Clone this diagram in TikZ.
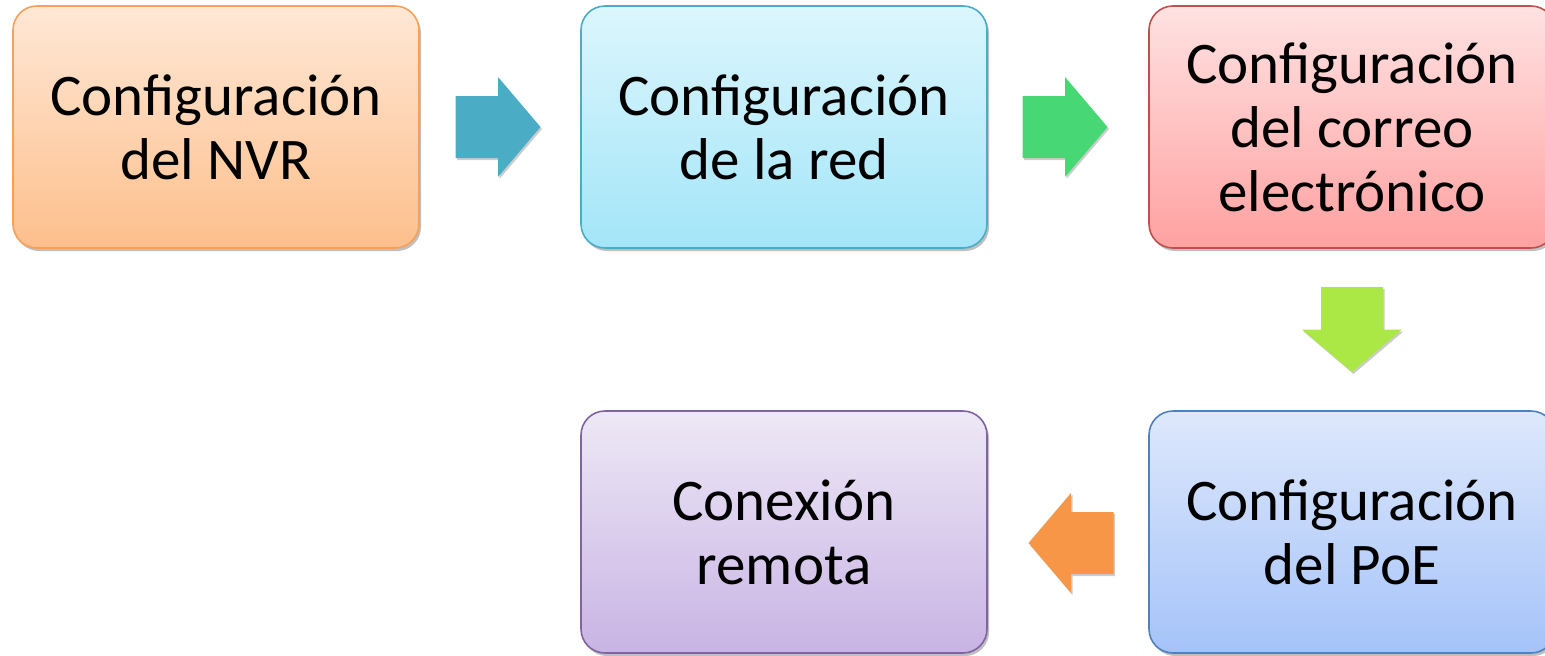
\documentclass[tikz,border=0pt]{standalone}
\usepackage{fontspec}
\setmainfont{Carlito}
\usetikzlibrary{shadows,calc}
\definecolor{oTop}{HTML}{FFE8D6}\definecolor{oBot}{HTML}{FDBF8C}\definecolor{oLine}{HTML}{F6A05A}
\definecolor{cTop}{HTML}{DCF6FD}\definecolor{cBot}{HTML}{A3E5F8}\definecolor{cLine}{HTML}{4BACC6}
\definecolor{rTop}{HTML}{FFE2E2}\definecolor{rBot}{HTML}{FFA1A1}\definecolor{rLine}{HTML}{C0504D}
\definecolor{bTop}{HTML}{DEE8FC}\definecolor{bBot}{HTML}{A5C3F9}\definecolor{bLine}{HTML}{4F81BD}
\definecolor{pTop}{HTML}{EEE8F6}\definecolor{pBot}{HTML}{C8B4E4}\definecolor{pLine}{HTML}{8064A2}
\definecolor{aTeal}{HTML}{4BACC6}\definecolor{aGreen}{HTML}{47D774}
\definecolor{aLime}{HTML}{ABE845}\definecolor{aOrange}{HTML}{F79646}
\tikzset{
  stepbox/.style={rounded corners=24pt, minimum width=406pt, minimum height=242pt,
    line width=1.6pt, align=center, inner sep=0pt,
    font=\fontsize{59}{64}\selectfont,
    drop shadow={shadow xshift=2pt, shadow yshift=-3pt, opacity=0.25, fill=black}},
  blockarrow/.pic={
    \fill[pic actions, drop shadow={shadow xshift=1.5pt, shadow yshift=-2pt, opacity=0.2, fill=black}]
      (-42.5,-31) -- (0,-31) -- (0,-50) -- (42.5,0) -- (0,50) -- (0,31) -- (-42.5,31) -- cycle;
  }
}
\begin{document}
\begin{tikzpicture}[x=1pt,y=-1pt]
\useasboundingbox (0,0) rectangle (1545,656);
\node[stepbox, top color=oTop, bottom color=oBot, draw=oLine] (b1) at (216,127) {Configuración\\del NVR};
\node[stepbox, top color=cTop, bottom color=cBot, draw=cLine] (b2) at (784,127) {Configuración\\de la red};
\node[stepbox, top color=rTop, bottom color=rBot, draw=rLine] (b3) at (1352,127) {Configuración\\del correo\\electrónico};
\node[stepbox, top color=bTop, bottom color=bBot, draw=bLine] (b4) at (1352,532) {Configuración\\del PoE};
\node[stepbox, top color=pTop, bottom color=pBot, draw=pLine] (b5) at (784,532) {Conexión\\remota};
\pic[fill=aTeal] at ($(b1.east)!0.5!(b2.west)+(-2,0)$) {blockarrow};
\pic[fill=aGreen] at ($(b2.east)!0.5!(b3.west)+(-3,0)$) {blockarrow};
\pic[fill=aLime, rotate=-90] at ($(b3.south)!0.5!(b4.north)$) {blockarrow};
\pic[fill=aOrange, rotate=180] at ($(b4.west)!0.5!(b5.east)+(3,11)$) {blockarrow};
\end{tikzpicture}
\end{document}
